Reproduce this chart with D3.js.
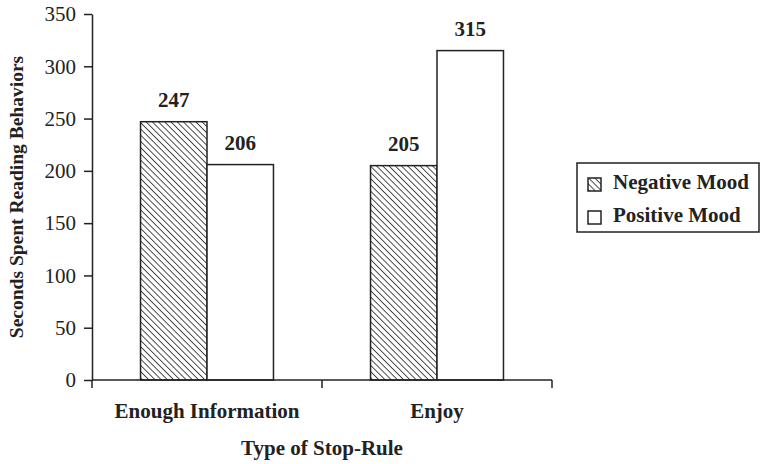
<!DOCTYPE html>
<html>
<head>
<meta charset="utf-8">
<script src="https://cdn.jsdelivr.net/npm/d3@7"></script>
<style>
  html, body { margin: 0; padding: 0; background: #fff; }
  svg { display: block; font-family: "Liberation Serif", "Times New Roman", serif; }
</style>
</head>
<body>
<svg id="chart" width="761" height="464"></svg>
<script>
// Stop-rule categories and mood series
const categories = ["Enough Information", "Enjoy"];
const series = ["Negative Mood", "Positive Mood"];
const negativeMood = [247, 205];
const positiveMood = [206, 315];
const yTicks = [0, 50, 100, 150, 200, 250, 300, 350];

const rows = categories.map((c, i) => ({ category: c, values: [negativeMood[i], positiveMood[i]] }));

const svg = d3.select("#chart");
const plotLeft = 92, plotRight = 552, plotTop = 14, plotBottom = 380;
const ink = "#222";
const fontSize = 21;

// Diagonal hatch for the negative-mood bars
const defs = svg.append("defs");
const pat = defs.append("pattern")
  .attr("id", "hatch")
  .attr("patternUnits", "userSpaceOnUse")
  .attr("width", 4.4).attr("height", 4.4)
  .attr("patternTransform", "rotate(-45)");
pat.append("rect").attr("width", 4.4).attr("height", 4.4).attr("fill", "#fff");
pat.append("line").attr("x1", 0).attr("y1", 0).attr("x2", 0).attr("y2", 4.4)
  .attr("stroke", "#222").attr("stroke-width", 1.6);

const fills = ["url(#hatch)", "#fff"];

const x0 = d3.scaleBand().domain(categories).range([plotLeft, plotRight]).padding(0);
const x1 = d3.scaleBand().domain(series).range([0, x0.bandwidth()])
  .paddingInner(0).paddingOuter(0.73);
const y = d3.scaleLinear().domain([0, 350]).range([plotBottom, plotTop]);

// Bars
const groups = svg.append("g").selectAll("g").data(rows).join("g")
  .attr("transform", d => `translate(${x0(d.category)},0)`);

groups.selectAll("rect").data(d => d.values.map((v, i) => ({ v, s: series[i], i }))).join("rect")
  .attr("x", d => x1(d.s))
  .attr("y", d => y(d.v))
  .attr("width", x1.bandwidth())
  .attr("height", d => y(0) - y(d.v))
  .attr("fill", d => fills[d.i])
  .attr("stroke", ink).attr("stroke-width", 1.5);

// Value labels
groups.selectAll("text.val").data(d => d.values.map((v, i) => ({ v, s: series[i] }))).join("text")
  .attr("class", "val")
  .attr("x", d => x1(d.s) + x1.bandwidth() / 2)
  .attr("y", d => y(d.v) - 15)
  .attr("text-anchor", "middle")
  .attr("font-size", fontSize).attr("font-weight", "bold").attr("fill", ink)
  .text(d => d.v);

// Y axis
const yAxis = svg.append("g").attr("transform", `translate(${plotLeft},0)`)
  .call(d3.axisLeft(y).tickValues(yTicks).tickSize(8).tickPadding(8).tickSizeOuter(0));
yAxis.select(".domain").attr("stroke", ink).attr("stroke-width", 1.5);
yAxis.selectAll(".tick line").attr("stroke", ink).attr("stroke-width", 1.5);
yAxis.selectAll(".tick text").attr("font-size", fontSize).attr("fill", ink)
  .attr("font-family", "Liberation Serif, serif");

// X axis with boundary ticks between categories
const xAxis = svg.append("g").attr("transform", `translate(0,${plotBottom})`);
xAxis.append("line").attr("x1", plotLeft).attr("x2", plotRight).attr("y1", 0).attr("y2", 0)
  .attr("stroke", ink).attr("stroke-width", 1.5);
const boundaries = [plotLeft, ...categories.map(c => x0(c) + x0.bandwidth())];
xAxis.selectAll("line.b").data(boundaries).join("line").attr("class", "b")
  .attr("x1", d => d).attr("x2", d => d).attr("y1", 0).attr("y2", 8)
  .attr("stroke", ink).attr("stroke-width", 1.5);
xAxis.selectAll("text").data(categories).join("text")
  .attr("x", d => x0(d) + x0.bandwidth() / 2)
  .attr("y", 38)
  .attr("text-anchor", "middle")
  .attr("font-size", fontSize).attr("font-weight", "bold").attr("fill", ink)
  .text(d => d);

// Axis titles
svg.append("text")
  .attr("x", (plotLeft + plotRight) / 2).attr("y", 455)
  .attr("text-anchor", "middle")
  .attr("font-size", fontSize).attr("font-weight", "bold").attr("fill", ink)
  .text("Type of Stop-Rule");

svg.append("text")
  .attr("transform", `translate(23,${(plotTop + plotBottom) / 2}) rotate(-90)`)
  .attr("text-anchor", "middle")
  .attr("font-size", 19.5).attr("font-weight", "bold").attr("fill", ink)
  .text("Seconds Spent Reading Behaviors");

// Legend
const legend = svg.append("g").attr("transform", "translate(577,163)");
legend.append("rect").attr("width", 182).attr("height", 69)
  .attr("fill", "#fff").attr("stroke", ink).attr("stroke-width", 1.5);
const items = legend.selectAll("g.item").data(series).join("g").attr("class", "item")
  .attr("transform", (d, i) => `translate(11,${15 + i * 33})`);
items.append("rect").attr("width", 13).attr("height", 13)
  .attr("fill", (d, i) => fills[i]).attr("stroke", ink).attr("stroke-width", 1.5);
items.append("text").attr("x", 25).attr("y", 11)
  .attr("font-size", fontSize).attr("font-weight", "bold").attr("fill", ink)
  .text(d => d);
</script>
</body>
</html>
